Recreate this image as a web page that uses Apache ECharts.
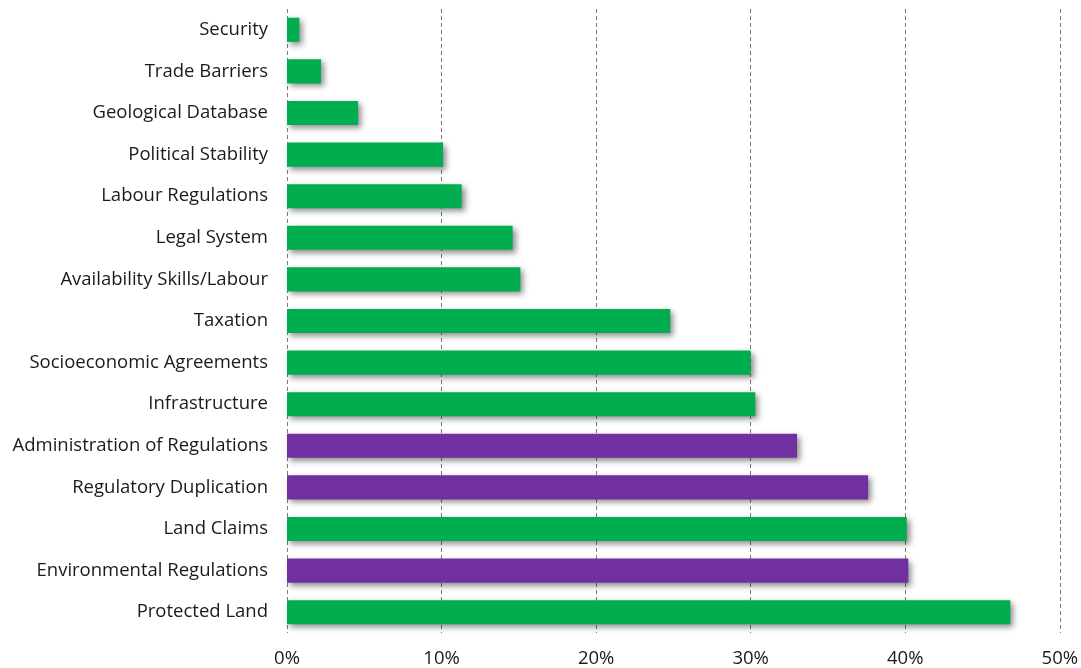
<!DOCTYPE html>
<html>
<head>
<meta charset="utf-8">
<script src="https://cdn.jsdelivr.net/npm/echarts@6/dist/echarts.min.js"></script>
<style>
  html, body { margin: 0; padding: 0; background: #fff; }
  #chart { width: 1081px; height: 668px; }
</style>
</head>
<body>
<div id="chart"></div>
<script>
// Factors, listed top to bottom
const categories = [
  'Security', 'Trade Barriers', 'Geological Database', 'Political Stability',
  'Labour Regulations', 'Legal System', 'Availability Skills/Labour', 'Taxation',
  'Socioeconomic Agreements', 'Infrastructure', 'Administration of Regulations',
  'Regulatory Duplication', 'Land Claims', 'Environmental Regulations', 'Protected Land'
];
// Share of respondents citing each factor (%)
const values = [0.8, 2.2, 4.6, 10.1, 11.3, 14.6, 15.1, 24.8, 30.0, 30.3, 33.0, 37.6, 40.1, 40.2, 46.8];
// Regulatory factors are highlighted
const isRegulatory = [false, false, false, false, false, false, false, false, false, false, true, true, false, true, false];
const xTicks = [0, 10, 20, 30, 40, 50];

const GREEN = '#00AE4F';
const PURPLE = '#7030A0';
const FONT = '"Open Sans", "Noto Sans", sans-serif';

const chart = echarts.init(document.getElementById('chart'), null, { renderer: 'canvas' });
chart.setOption({
  animation: false,
  backgroundColor: '#ffffff',
  grid: { left: 287, right: 21, top: 9, bottom: 34, containLabel: false },
  xAxis: {
    type: 'value',
    min: xTicks[0],
    max: xTicks[xTicks.length - 1],
    interval: 10,
    axisLine: { show: false },
    axisTick: { show: false },
    splitLine: { show: true, lineStyle: { color: '#7a7a7a', type: [4, 3], width: 1 } },
    axisLabel: {
      formatter: '{value}%', color: '#1a1a1a', fontSize: 18.5, fontFamily: FONT, margin: 16
    }
  },
  yAxis: {
    type: 'category',
    data: categories,
    inverse: true,
    axisLine: { show: false },
    axisTick: { show: false },
    splitLine: { show: false },
    axisLabel: {
      color: '#1a1a1a', fontSize: 18.5, fontFamily: FONT, margin: 19,
      padding: [3, 0, 0, 0]
    }
  },
  series: [{
    type: 'bar',
    barCategoryGap: '42%',
    data: values.map((v, i) => ({
      value: v,
      itemStyle: { color: isRegulatory[i] ? PURPLE : GREEN }
    })),
    itemStyle: {
      shadowColor: 'rgba(0,0,0,0.45)',
      shadowBlur: 6,
      shadowOffsetX: 3,
      shadowOffsetY: 3
    }
  }]
});
</script>
</body>
</html>
